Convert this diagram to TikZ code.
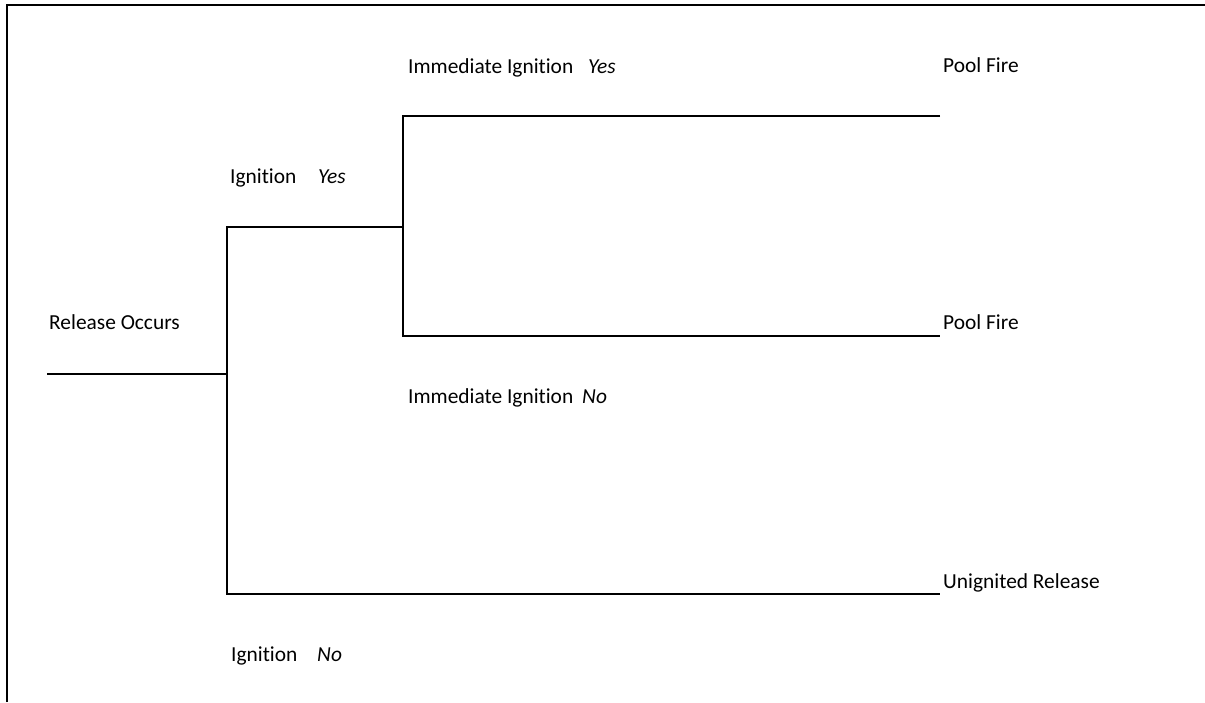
\documentclass[tikz,border=0pt]{standalone}
\usepackage{fontspec}
\setmainfont{Carlito}[Ligatures={NoCommon}]
\begin{document}
\begin{tikzpicture}[x=1pt,y=-1pt,
  lbl/.style={anchor=base west,inner sep=0pt,font=\fontsize{21.4}{25}\selectfont},
  ans/.style={lbl,font=\fontsize{21.4}{25}\selectfont\itshape},
  branch/.style={line width=2pt},
  frame/.style={line width=2pt}]
\useasboundingbox (0,0) rectangle (1205,702);
% frame (top and left only)
\coordinate (fbl) at (7,702);
\coordinate (ftl) at (7,5);
\coordinate (ftr) at (1205,5);
\draw[frame] (fbl) -- (ftl) -- (ftr);
% tree coordinates
\coordinate (r0) at (47,374);
\coordinate (r1) at (227,374);
\coordinate (iy0) at (227,227);
\coordinate (iy1) at (403,227);
\coordinate (in0) at (227,594);
\coordinate (in1) at (940,594);
\coordinate (my0) at (403,116);
\coordinate (my1) at (940,116);
\coordinate (mn0) at (403,336);
\coordinate (mn1) at (940,336);
\draw[branch] (r0) -- (r1);
\draw[branch] (iy1) -- (iy0) -- (in0) -- (in1);
\draw[branch] (my1) -- (my0) -- (mn0) -- (mn1);
% labels
\node[lbl] (rel) at (49,329) {Release Occurs};
\node[lbl] (ign1) at (230,183) {Ignition};
\node[ans] (yes1) at (318,183) {Yes};
\node[lbl] (ign2) at (231,661) {Ignition};
\node[ans] (no1) at (317,661) {No};
\node[lbl] (imm1) at (408,73) {Immediate Ignition};
\node[ans] (yes2) at (588,73) {Yes};
\node[lbl] (imm2) at (408,403) {Immediate Ignition};
\node[ans] (no2) at (582,403) {No};
\node[lbl] (pf1) at (943,72) {Pool Fire};
\node[lbl] (pf2) at (943,329) {Pool Fire};
\node[lbl] (ur) at (943,588) {Unignited Release};
\end{tikzpicture}
\end{document}
